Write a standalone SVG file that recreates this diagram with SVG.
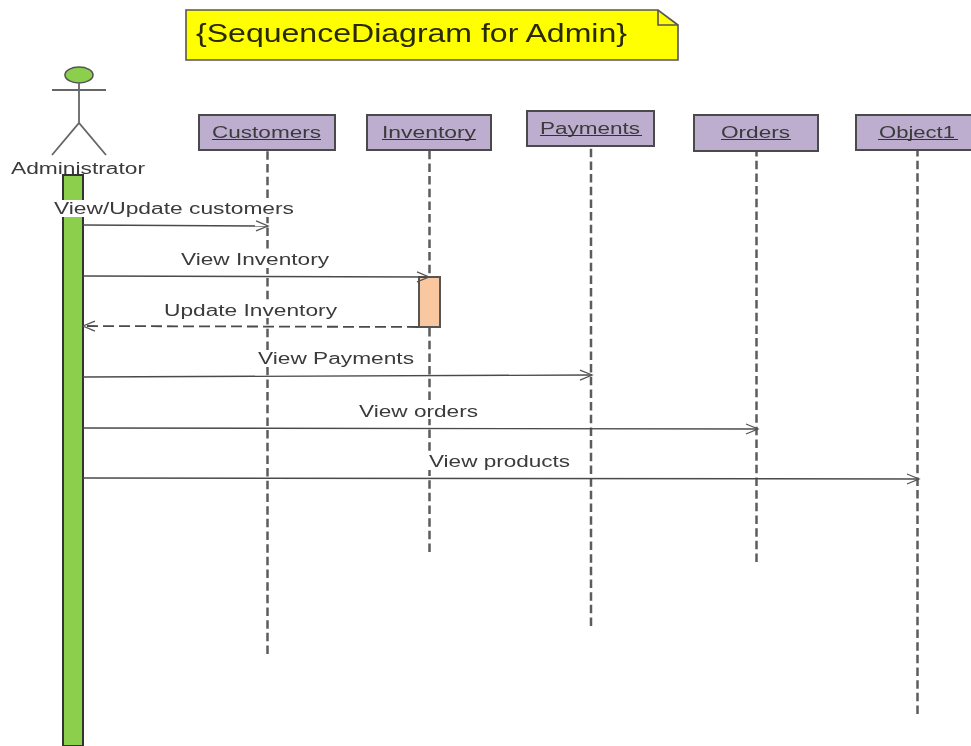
<svg xmlns="http://www.w3.org/2000/svg" width="971" height="746" viewBox="0 0 971 746">
<style>
text{font-family:"Liberation Sans",Arial,sans-serif;fill:#3a3a3a;font-size:16px;filter:url(#soft)}
.obj{fill:#bdaed0;stroke:#4a4a4a;stroke-width:2}
.life{stroke:#5c5c5c;stroke-width:2.5;stroke-dasharray:8.5 4.17;fill:none}
.msg{stroke:#4a4a4a;stroke-width:1.4;fill:none}
.gap{fill:#fff}
.stick{stroke:#666;stroke-width:1.8;fill:none}
.ul{stroke:#333;stroke-width:1.2}
</style>
<defs>
<filter id="soft" x="-5%" y="-20%" width="110%" height="140%"><feGaussianBlur stdDeviation="0.35"/></filter>
<marker id="open" markerWidth="16" markerHeight="14" refX="13" refY="6" orient="auto" markerUnits="userSpaceOnUse"><path d="M1 1 L13 6 L1 11" fill="none" stroke="#555" stroke-width="1.3"/></marker>
</defs>
<rect width="971" height="746" fill="#fff"/>
<g id="note">
<path d="M186 10H658L678 25V60H186Z" fill="#ffff00" stroke="#555" stroke-width="1.6"/>
<path d="M658 10V25H678" fill="none" stroke="#555" stroke-width="1.6"/>
<text x="196" y="42" style="font-size:25px;fill:#2a2a00" textLength="431" lengthAdjust="spacingAndGlyphs">{SequenceDiagram for Admin}</text>
</g>
<g id="connectors">
<path class="life" d="M267.5 654V150"/>
<path class="life" d="M429.5 552V150"/>
<path class="life" d="M591 626V147"/>
<path class="life" d="M756.5 562V151"/>
<path class="life" d="M917.5 714V150"/>
</g>
<g id="Administrator">
<rect x="63" y="175" width="20" height="571" fill="#8ccf4d" stroke="#333" stroke-width="2"/>
<ellipse cx="79" cy="75" rx="14" ry="8" fill="#8ccf4d" stroke="#555" stroke-width="1.6"/>
<path class="stick" d="M79 83V123M52 90H106M52 155L79 123L106 155"/>
<text x="11" y="174" textLength="134" lengthAdjust="spacingAndGlyphs">Administrator</text>
</g>
<g id="Customers"><rect class="obj" x="199" y="115" width="136" height="35"/><text x="212" y="138" textLength="109" lengthAdjust="spacingAndGlyphs">Customers</text><path class="ul" d="M212 139.500H321"/></g>
<g id="Inventory"><rect class="obj" x="367" y="115" width="124" height="35"/><text x="382" y="138" textLength="94" lengthAdjust="spacingAndGlyphs">Inventory</text><path class="ul" d="M382 139.500H476"/></g>
<g id="Payments"><rect class="obj" x="527" y="111" width="127" height="35"/><text x="540" y="134" textLength="100" lengthAdjust="spacingAndGlyphs">Payments</text><path class="ul" d="M540 135.500H642"/></g>
<g id="Orders"><rect class="obj" x="694" y="115" width="124" height="36"/><text x="721" y="138" textLength="69" lengthAdjust="spacingAndGlyphs">Orders</text><path class="ul" d="M721 139.500H791"/></g>
<g id="Object1"><rect class="obj" x="856" y="115" width="120" height="35"/><text x="879" y="138" textLength="76" lengthAdjust="spacingAndGlyphs">Object1</text><path class="ul" d="M878 139.500H958"/></g>
<g id="activation"><rect x="419" y="277" width="21" height="50" fill="#f9c8a0" stroke="#555" stroke-width="2"/></g>
<g id="messages">
<rect class="gap" x="52" y="200" width="244" height="17"/>
<rect class="gap" x="180" y="251" width="150" height="17"/>
<rect class="gap" x="163" y="301" width="175" height="17"/>
<rect class="gap" x="257" y="350" width="158" height="17"/>
<rect class="gap" x="358" y="402" width="121" height="17"/>
<rect class="gap" x="428" y="453" width="143" height="17"/>
<path class="msg" d="M83 225L268 226" marker-end="url(#open)"/>
<path class="msg" d="M83 276L429 277" marker-end="url(#open)"/>
<path class="msg" d="M418 327L83 326" stroke-dasharray="11 5" style="stroke-width:1.8" marker-end="url(#open)"/>
<path class="msg" d="M83 377L592 375" marker-end="url(#open)"/>
<path class="msg" d="M83 428L758 429" marker-end="url(#open)"/>
<path class="msg" d="M83 478L919 479" marker-end="url(#open)"/>
<text x="54" y="214" textLength="240" lengthAdjust="spacingAndGlyphs">View/Update customers</text>
<text x="181" y="265" textLength="148" lengthAdjust="spacingAndGlyphs">View Inventory</text>
<text x="164" y="316" textLength="173" lengthAdjust="spacingAndGlyphs">Update Inventory</text>
<text x="258" y="364" textLength="156" lengthAdjust="spacingAndGlyphs">View Payments</text>
<text x="359" y="417" textLength="119" lengthAdjust="spacingAndGlyphs">View orders</text>
<text x="429" y="467" textLength="141" lengthAdjust="spacingAndGlyphs">View products</text>
</g>
</svg>
